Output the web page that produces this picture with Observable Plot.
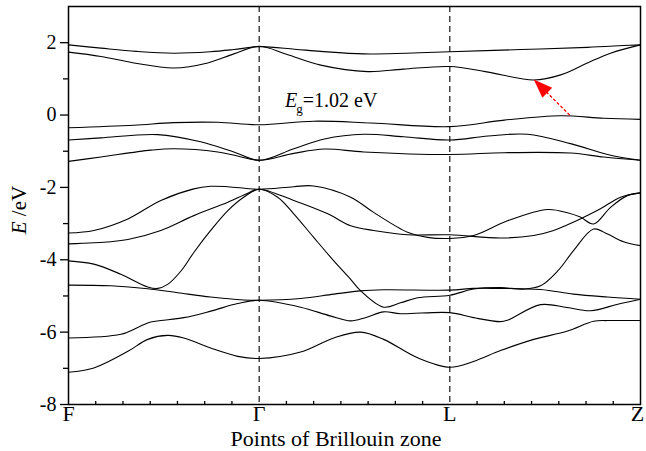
<!DOCTYPE html>
<html><head><meta charset="utf-8">
<script src="https://cdn.jsdelivr.net/npm/d3@7"></script>
<script src="https://cdn.jsdelivr.net/npm/@observablehq/plot@0.6"></script>
<style>body{margin:0;background:#fff} svg{display:block}</style>
</head><body><div id="chart"></div>
<script>
// High-symmetry points (path coordinate) and labels
const kLabels = ["F", "Γ", "L", "Z"];
const kPositions = [0, 7, 14, 21];
const xMinorTicks = [1,2,3,4,5,6,8,9,10,11,12,13,15,16,17,18,19,20];
const yMajorTicks = [-8, -6, -4, -2, 0, 2];
const yMinorTicks = [-7, -5, -3, -1, 1];

// Bands: [k, E (eV)]
const cb2 = [[0,1.94],[1.19,1.85],[2.5,1.76],[3.86,1.71],[5.2,1.75],[6.07,1.81],[7,1.89],[8.3,1.82],[9.26,1.76],[10.84,1.69],[12.4,1.71],[14,1.75],[16.6,1.81],[19.05,1.87],[20.6,1.93],[21,1.94]];
const cb1 = [[0,1.74],[1.19,1.62],[2.4,1.44],[3.86,1.30],[5.11,1.44],[6.07,1.69],[7,1.90],[8.0,1.68],[9.26,1.38],[10.98,1.20],[12.3,1.27],[14,1.34],[15.3,1.20],[17.08,0.97],[18.07,1.11],[19.05,1.44],[19.9,1.71],[21,1.94]];
const vb1 = [[0,-0.35],[2.4,-0.28],[3.86,-0.21],[5.48,-0.20],[7,-0.27],[9.0,-0.17],[11.1,-0.22],[14,-0.32],[16.0,-0.14],[18.07,-0.02],[19.65,-0.09],[21,-0.12]];
const vb2 = [[0,-0.69],[1.19,-0.63],[3.28,-0.54],[4.85,-0.74],[6.07,-1.02],[7,-1.25],[8.27,-0.93],[9.4,-0.66],[10.84,-0.53],[12.3,-0.60],[14,-0.69],[15.4,-0.58],[16.85,-0.53],[18.43,-0.79],[19.9,-1.11],[21,-1.25]];
const vb3 = [[0,-1.28],[1.19,-1.16],[3.02,-0.97],[3.86,-0.93],[5.48,-1.02],[6.2,-1.13],[7,-1.25],[8.27,-1.06],[9.4,-0.94],[10.84,-1.02],[14,-1.09],[16.0,-1.04],[18.43,-1.05],[19.65,-1.16],[21,-1.25]];
const vbA = [[0,-3.26],[0.93,-3.19],[2.18,-2.87],[3.39,-2.36],[4.6,-2.04],[5.22,-1.97],[5.85,-1.98],[7,-2.05],[8.27,-1.98],[9.0,-1.96],[10.36,-2.27],[11.2,-2.69],[12.45,-3.24],[13.18,-3.38],[14,-3.41],[14.87,-3.33],[16.12,-2.92],[17.59,-2.61],[18.32,-2.70],[18.79,-2.82],[19.28,-3.01],[19.9,-2.55],[20.53,-2.22],[21,-2.15]];
const vbB = [[0,-3.56],[1.55,-3.50],[2.18,-3.44],[3.39,-3.19],[4.6,-2.78],[5.85,-2.41],[6.58,-2.16],[7,-2.05],[8.27,-2.36],[9.52,-2.73],[10.36,-3.06],[11.2,-3.19],[12.45,-3.31],[14,-3.31],[15.86,-3.40],[17.08,-3.33],[17.81,-3.19],[18.32,-3.03],[18.79,-2.87],[19.53,-2.59],[20.27,-2.27],[21,-2.15]];
const vbS = [[0,-4.03],[0.93,-4.12],[1.92,-4.40],[2.91,-4.75],[3.28,-4.79],[3.64,-4.68],[4.13,-4.31],[4.6,-3.80],[5.22,-3.19],[5.85,-2.64],[6.43,-2.27],[7,-2.05],[7.68,-2.27],[8.27,-2.73],[9.0,-3.38],[9.74,-4.03],[10.36,-4.54],[10.73,-4.86],[11.57,-5.31],[12.19,-5.19],[12.82,-5.05],[14,-4.98],[14.87,-4.81],[15.86,-4.77],[16.71,-4.81],[17.33,-4.72],[17.96,-4.31],[18.54,-3.75],[19.28,-3.15],[19.79,-3.29],[20.38,-3.50],[21,-3.61]];
const vbH = [[0,-4.70],[1.55,-4.72],[2.91,-4.80],[4.01,-4.91],[5.22,-5.03],[6.43,-5.11],[7,-5.12],[8.52,-5.07],[9.74,-4.95],[10.73,-4.86],[11.57,-4.83],[14,-4.84],[14.87,-4.79],[15.5,-4.79],[17.33,-4.82],[18.54,-4.95],[19.79,-5.03],[21,-5.09]];
const vbG = [[0,-6.16],[1.92,-6.06],[2.6,-5.85],[3.02,-5.72],[3.39,-5.68],[4.23,-5.60],[5.22,-5.42],[6.21,-5.21],[7,-5.12],[8.52,-5.31],[9.6,-5.55],[10.36,-5.69],[10.9,-5.60],[11.57,-5.44],[12.19,-5.49],[14,-5.46],[14.87,-5.60],[15.86,-5.71],[16.12,-5.67],[17.33,-5.24],[18.3,-5.32],[19.17,-5.41],[20.2,-5.22],[21,-5.09]];
const vbLow = [[0,-7.11],[0.93,-6.99],[2.18,-6.53],[2.91,-6.20],[3.64,-6.09],[4.23,-6.16],[5.22,-6.44],[6.21,-6.67],[7,-6.73],[8.52,-6.55],[9.74,-6.16],[10.73,-6.00],[11.57,-6.20],[12.82,-6.71],[14,-6.97],[14.87,-6.81],[15.86,-6.51],[17.08,-6.20],[18.32,-5.97],[19.28,-5.70],[19.8,-5.68],[21,-5.68]];

// Band-gap arrow: from VBM region to CBM
const arrowTail = [18.4, 0.0];
const arrowTip = [17.1, 0.97];
const gapLabel = "=1.02 eV";
const gapAnchor = [7.97, 0.21];

const bandList = [["cb2",cb2],["cb1",cb1],["vb1",vb1],["vb2",vb2],["vb3",vb3],["vbA",vbA],["vbB",vbB],["vbS",vbS],["vbH",vbH],["vbG",vbG],["vbLow",vbLow]];
const rows = [];
bandList.forEach(([name, pts]) => pts.forEach(([k, E]) => rows.push({band: name, k, E})));

const font = "'Liberation Serif', 'Times New Roman', serif";
const labelOf = d => kLabels[kPositions.indexOf(d)];

const chart = Plot.plot({
  width: 646, height: 451,
  marginLeft: 68, marginRight: 6, marginTop: 6, marginBottom: 47,
  style: {fontFamily: font, background: "#fff", color: "#000"},
  x: {domain: [0, 21]},
  y: {domain: [-8, 3]},
  marks: [
    Plot.ruleX([kPositions[1], kPositions[2]], {stroke: "#000", strokeWidth: 1.1, strokeDasharray: "6,4"}),
    Plot.line(rows, {x: "k", y: "E", z: "band", curve: "catmull-rom", stroke: "#000", strokeWidth: 1.1}),
    Plot.link([{x1: arrowTail[0], y1: arrowTail[1], x2: arrowTip[0], y2: arrowTip[1]}],
      {x1: "x1", y1: "y1", x2: "x2", y2: "y2", stroke: "#ff0000", strokeWidth: 1.3, strokeDasharray: "3,2"}),
    Plot.axisY(yMajorTicks, {tickSize: 8, tickPadding: 4, fontSize: 20, strokeWidth: 1.3, tickFormat: d => String(d), label: null}),
    Plot.axisY(yMinorTicks, {tickSize: 5, strokeWidth: 1.3, text: null, label: null}),
    Plot.axisX(kPositions.slice(0, 3), {tickSize: 0, tickPadding: 1, fontSize: 22, tickFormat: labelOf, label: null}),
    Plot.axisX(kPositions.slice(3), {tickSize: 0, tickPadding: 1, fontSize: 22, dx: -3, tickFormat: labelOf, label: null}),
    Plot.ruleX(xMinorTicks, {y1: -8, y2: -7.915, stroke: "#000", strokeWidth: 1.3}),
    Plot.frame({stroke: "#000", strokeWidth: 1.5})
  ]
});

const svg = d3.select(chart);
const sx = chart.scale("x"), sy = chart.scale("y");

// arrow head
const tx = sx.apply(arrowTip[0]), ty = sy.apply(arrowTip[1]);
const bx0 = sx.apply(arrowTail[0]), by0 = sy.apply(arrowTail[1]);
const len = Math.hypot(tx - bx0, ty - by0);
const ux = (tx - bx0) / len, uy = (ty - by0) / len;
const hl = 19, hw = 7;
const cx = tx - ux * hl, cy = ty - uy * hl;
svg.append("polygon")
  .attr("points", [[tx, ty], [cx - uy * hw, cy + ux * hw], [cx + uy * hw, cy - ux * hw]].map(p => p.join(",")).join(" "))
  .attr("fill", "#ff0000");

// Eg label
const gx = sx.apply(gapAnchor[0]), gy = sy.apply(gapAnchor[1]);
const eg = svg.append("text").attr("x", gx).attr("y", gy).attr("text-anchor", "start")
  .attr("font-family", font).attr("font-size", 20).attr("fill", "#000");
eg.append("tspan").attr("font-style", "italic").text("E");
eg.append("tspan").attr("font-size", 13).attr("dx", -1).attr("dy", 6).text("g");
eg.append("tspan").attr("dy", -6).text(gapLabel);

// Y axis title
const yl = svg.append("text").attr("transform", "translate(26,210) rotate(-90)")
  .attr("text-anchor", "middle").attr("font-family", font).attr("font-size", 21).attr("fill", "#000");
yl.append("tspan").attr("font-style", "italic").text("E");
yl.append("tspan").text(" /eV");

// X axis title
svg.append("text").attr("x", 336).attr("y", 446).attr("text-anchor", "middle")
  .attr("font-family", font).attr("font-size", 22).attr("fill", "#000").text("Points of Brillouin zone");

document.getElementById("chart").appendChild(chart);
</script></body></html>
